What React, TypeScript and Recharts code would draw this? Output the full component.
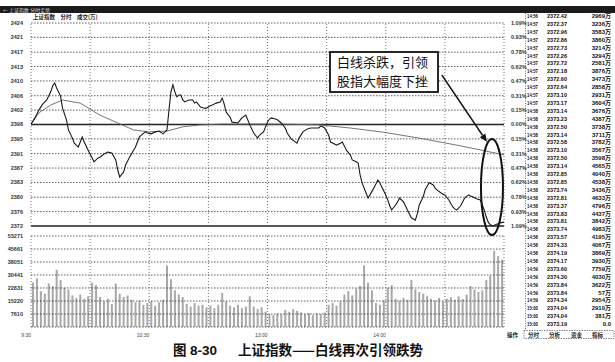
import {
  ComposedChart,
  BarChart,
  Bar,
  Line,
  XAxis,
  YAxis,
  ReferenceLine,
  ReferenceDot,
} from 'recharts'

// [minutes since 9:30, index level]
const priceTrack: [number, number][] = [
  [0, 2398.4], [2, 2400.0], [4, 2402.0], [6, 2403.6], [8, 2404.6], [10, 2406.7], [11, 2408.2], [12, 2409.0],
  [13, 2407.7], [15, 2405.6], [16, 2402.5], [18, 2399.5], [19, 2396.9], [21, 2394.8], [22, 2393.5], [24, 2392.5],
  [25, 2393.8], [26, 2395.1], [27, 2393.8], [29, 2391.7], [31, 2389.7], [32, 2388.7], [34, 2389.7], [35, 2389.9],
  [37, 2390.7], [39, 2391.2], [41, 2391.0], [43, 2389.2], [44, 2386.6], [45, 2384.8], [47, 2386.1], [48, 2387.9],
  [50, 2389.9], [53, 2392.5], [55, 2395.1], [58, 2396.4], [59, 2396.1], [61, 2395.9], [63, 2396.4], [65, 2396.6],
  [67, 2395.9], [68, 2396.4], [69, 2396.9], [70, 2402.0], [71, 2406.7], [72, 2408.5], [73, 2406.7], [74, 2405.4],
  [75, 2405.9], [76, 2405.9], [77, 2404.6], [78, 2404.1], [80, 2404.6], [82, 2404.6], [83, 2403.8], [84, 2404.1],
  [86, 2402.8], [88, 2402.5], [89, 2402.5], [91, 2403.1], [92, 2403.3], [94, 2403.8], [96, 2404.1], [97, 2405.1],
  [98, 2403.6], [99, 2401.5], [101, 2400.2], [102, 2398.9], [105, 2398.7], [107, 2400.0], [109, 2400.7], [110, 2399.5],
  [111, 2398.2], [113, 2396.1], [115, 2394.8], [116, 2395.6], [118, 2396.4], [119, 2397.7], [120, 2398.9], [121, 2399.7],
  [122, 2400.0], [124, 2399.7], [125, 2399.5], [127, 2398.7], [129, 2397.4], [130, 2396.1], [132, 2394.6], [135, 2393.5],
  [136, 2394.8], [138, 2396.4], [140, 2397.1], [142, 2397.4], [144, 2397.4], [146, 2397.4], [147, 2397.9], [148, 2397.7],
  [149, 2397.4], [151, 2395.6], [152, 2393.8], [154, 2393.3], [155, 2393.0], [157, 2393.5], [158, 2393.8], [159, 2392.8],
  [160, 2391.7], [162, 2390.5], [163, 2389.2], [165, 2388.7], [166, 2388.4], [167, 2385.3], [168, 2383.3], [170, 2380.7],
  [171, 2379.4], [172, 2380.2], [174, 2382.0], [176, 2384.0], [177, 2383.3], [178, 2382.2], [180, 2380.2], [181, 2378.9],
  [182, 2377.4], [183, 2376.3], [185, 2377.6], [186, 2378.4], [187, 2379.4], [189, 2378.4], [190, 2377.4], [191, 2376.3],
  [192, 2375.3], [193, 2374.3], [195, 2373.7], [196, 2375.3], [197, 2377.6], [199, 2379.7], [200, 2381.5], [202, 2383.3],
  [204, 2382.8], [205, 2382.0], [206, 2381.5], [208, 2380.7], [210, 2380.2], [212, 2378.9], [214, 2377.1], [215, 2376.6],
  [216, 2376.3], [218, 2377.4], [219, 2378.4], [220, 2379.4], [222, 2380.2], [223, 2379.9], [224, 2379.7], [226, 2379.2],
  [228, 2378.9], [229, 2377.6], [230, 2376.3], [231, 2374.5], [232, 2373.2], [233, 2372.5], [234, 2372.3], [235, 2372.4],
  [236, 2372.6], [238, 2373.0], [240, 2373.2],
]

// average price (the thin line)
const avgTrack: [number, number][] = [
  [0, 2398.4], [4, 2401.3], [10, 2403.3], [16, 2404.6], [25, 2403.8], [35, 2400.7], [44, 2398.7],
  [52, 2396.9], [60, 2396.4], [69, 2396.6], [77, 2397.7], [86, 2398.2], [97, 2398.4], [128, 2398.4],
  [146, 2398.2], [162, 2397.4], [179, 2396.3], [197, 2394.8], [218, 2392.8], [240, 2390.5],
]

// turnover per 2-minute slot, 万
const volumes = [
  26000, 28500, 21000, 19500, 25500, 24000, 33500, 27500, 23000, 22000,
  18500, 17000, 19000, 16500, 18000, 26000, 24500, 17500, 15000, 16500,
  13500, 25500, 19500, 17500, 18500, 16000, 14500, 15500, 13000, 14000,
  15000, 12500, 14500, 16000, 36000, 28000, 21500, 19000, 17500, 13500,
  12000, 14000, 12500, 13000, 11500, 12500, 11000, 13000, 20000, 15000,
  12500, 11500, 13000, 11000, 12000, 18000, 12000, 10500, 11500, 9000,
  7500, 7000, 8000, 7500, 10000, 9000, 10500, 9500, 8500, 7500,
  8000, 7000, 8000, 7500, 8500, 13000, 14000, 12500, 15000, 19000,
  21000, 18500, 22500, 24000, 36000, 26000, 21500, 14000, 13000, 15500,
  23000, 24500, 16500, 15500, 17000, 16000, 27500, 22000, 20500, 19500,
  18000, 16500, 15500, 17000, 15000, 16500, 17500, 16000, 18000, 16500,
  19000, 24000, 22000, 20500, 21500, 27500, 30000, 44500, 41500, 39500,
]

const priceTicks = [
  2372.2, 2375.9, 2379.6, 2383.4, 2387.1, 2390.8, 2394.6, 2398.3,
  2402.0, 2405.7, 2409.5, 2413.2, 2416.9, 2420.7, 2424.4,
]
const priceLabels = [
  '2372', '2376', '2380', '2383', '2387', '2391', '2395', '2398',
  '2402', '2406', '2410', '2413', '2417', '2421', '2424',
]
const pctLabels = [
  '1.09%', '0.93%', '0.78%', '0.62%', '0.47%', '0.31%', '0.15%', '0.00%',
  '0.15%', '0.31%', '0.47%', '0.62%', '0.78%', '0.93%', '1.09%',
]
const prevClose = 2398.3
const volTicks = [0, 7610, 15220, 22831, 30441, 38051, 45661, 53271]
const timeTicks = [0, 60, 120, 180]
const timeLabels = ['9:30', '10:30', '13:00', '14:00']
const gridMinutes = [0, 30, 60, 90, 120, 150, 180, 210, 240]

// last trades panel
const tradeTimes = [
  '14:56', '14:57', '14:57', '14:57', '14:57', '14:57', '14:57', '14:57', '14:57', '14:57',
  '14:57', '14:57', '14:58', '14:58', '14:58', '14:58', '14:58', '14:58', '14:58', '14:58',
  '14:58', '14:58', '14:58', '14:58', '14:58', '14:58', '14:58', '14:58', '14:58', '14:58',
  '14:58', '14:58', '14:59', '14:59', '14:59', '14:59', '14:59', '15:00', '15:00', '15:00',
]
const tradePrices = [
  '2372.42', '2372.37', '2372.96', '2372.86', '2372.73', '2372.26', '2372.72', '2372.18', '2372.60', '2372.64',
  '2373.10', '2373.17', '2373.14', '2373.23', '2372.50', '2373.14', '2372.58', '2373.10', '2372.50', '2373.14',
  '2372.85', '2372.85', '2373.74', '2372.81', '2373.37', '2373.83', '2373.81', '2373.74', '2373.57', '2374.33',
  '2374.19', '2374.17', '2373.60', '2374.30', '2373.84', '2373.84', '2374.34', '2374.04', '2374.04', '2373.19',
]
const tradeVols = [
  '2969万', '3236万', '3583万', '3860万', '3214万', '3294万', '2581万', '3876万', '3473万', '2858万',
  '2931万', '3604万', '3676万', '4387万', '3738万', '3711万', '3782万', '3567万', '3598万', '4565万',
  '4040万', '4538万', '3436万', '4633万', '4796万', '4437万', '3842万', '4983万', '4195万', '4067万',
  '3869万', '3930万', '7759万', '4030万', '3622万', '57万', '2954万', '2910万', '381万', '0.0',
]

const priceData = priceTrack.map(([m, v]) => ({ m, v }))
const avgData = avgTrack.map(([m, v]) => ({ m, v }))
const volData = volumes.map((vol, i) => ({ t: i * 2 + 1, vol }))

const SANS = "'Liberation Sans', 'Noto Sans CJK SC', sans-serif"
const CJK = "'Noto Sans CJK SC', sans-serif"
const tickStyle = { fontSize: 5.5, fill: '#333', fontFamily: SANS, fontWeight: 'bold' as const }

function TimeTick({ x, y, payload }: any) {
  const label = timeLabels[timeTicks.indexOf(payload.value)]
  return (
    <text x={x} y={y + 2} textAnchor="end" fontSize={5} fill="#444" fontFamily={SANS}>
      {label}
    </text>
  )
}

// arrow from the callout down to the circled tail
function ArrowShape(p: any) {
  const { x1, y1, x2, y2 } = p
  const a = Math.atan2(y2 - y1, x2 - x1)
  const len = 8
  const w = 3.2
  const bx = x2 - len * Math.cos(a)
  const by = y2 - len * Math.sin(a)
  const pts = [
    `${x2},${y2}`,
    `${bx - w * Math.sin(a)},${by + w * Math.cos(a)}`,
    `${bx + w * Math.sin(a)},${by - w * Math.cos(a)}`,
  ].join(' ')
  return (
    <g>
      <line x1={x1} y1={y1} x2={bx} y2={by} stroke="#111" strokeWidth={1.6} />
      <polygon points={pts} fill="#111" />
    </g>
  )
}

function Ring(p: any) {
  return <ellipse cx={p.cx} cy={p.cy} rx={11} ry={48} fill="none" stroke="#111" strokeWidth={2} />
}

function Overlay() {
  return (
    <svg width={615} height={362} style={{ position: 'absolute', left: 0, top: 0, pointerEvents: 'none' }}>
      {/* window bar */}
      <rect x={0} y={6} width={615} height={7} fill="#1b1b1b" />
      <text x={3} y={11.5} fontSize={5} fill="#ddd" fontFamily={CJK}>
        ← 上证指数 分时走势
      </text>
      <text x={33} y={19} fontSize={5.5} fill="#222" fontWeight="bold" fontFamily={CJK}>
        上证指数　分时　成交(万)
      </text>

      {/* trades list */}
      <line x1={525.5} y1={13} x2={525.5} y2={330} stroke="#444" strokeWidth={0.8} strokeDasharray="1 1.5" />
      {tradeTimes.map((t, i) => {
        const y = 18 + i * 7.9
        return (
          <g key={i} fontFamily={SANS} fontWeight="bold" fontSize={6} fill="#111">
            <text x={527} y={y} textLength={11} lengthAdjust="spacingAndGlyphs">{t}</text>
            <text x={547} y={y} textLength={20} lengthAdjust="spacingAndGlyphs">{tradePrices[i]}</text>
            <text x={611} y={y} textAnchor="end">{tradeVols[i]}</text>
          </g>
        )
      })}

      {/* tab strip */}
      <g fontFamily={CJK} fontSize={5.5} fontWeight="bold" fill="#222">
        <text x={507} y={337}>操作</text>
        <rect x={524} y={330.5} width={90} height={8} fill="none" stroke="#555" strokeWidth={0.7} strokeDasharray="1.5 1" />
        <text x={528} y={337}>分时</text>
        <text x={549} y={337}>分析</text>
        <text x={571} y={337}>资金</text>
        <text x={592} y={337}>指标</text>
      </g>

      {/* callout */}
      <rect x={330} y={52} width={108} height={40} fill="#fff" stroke="#111" strokeWidth={1.8} />
      <g fontFamily={CJK} fontSize={13} fill="#111">
        <text x={337} y={67}>白线杀跌，引领</text>
        <text x={337} y={86}>股指大幅度下挫</text>
      </g>

      {/* caption */}
      <g fontFamily={CJK} fontWeight="bold" fill="#111">
        <text x={173} y={355} fontSize={13.5}>图</text>
        <text x={190} y={355} fontSize={13.5} fontFamily="'Liberation Sans', sans-serif">8-30</text>
        <text x={238} y={355} fontSize={13.5}>上证指数——白线再次引领跌势</text>
      </g>
    </svg>
  )
}

export default function App() {
  const dotted = { stroke: '#333', strokeWidth: 0.8, strokeDasharray: '1.5 1.5' }
  const vDotted = { stroke: '#555', strokeWidth: 0.8, strokeDasharray: '1 2' }
  return (
    <div style={{ position: 'fixed', left: 0, top: 0, width: 615, height: 362, background: '#fff', overflow: 'hidden' }}>
      <div style={{ position: 'absolute', left: 0, top: 0 }}>
        <ComposedChart width={615} height={236} margin={{ top: 23, right: 87, bottom: 10, left: 0 }}>
          <XAxis type="number" dataKey="m" domain={[0, 240]} hide allowDataOverflow />
          <YAxis
            yAxisId="p"
            domain={[2372.2, 2424.4]}
            ticks={priceTicks}
            interval={0}
            width={31}
            axisLine={false}
            tickLine={false}
            tickMargin={2}
            tick={tickStyle}
            tickFormatter={(_v: number, i: number) => priceLabels[i]}
            allowDataOverflow
          />
          <YAxis
            yAxisId="pct"
            orientation="right"
            domain={[2372.2, 2424.4]}
            ticks={priceTicks}
            interval={0}
            width={24}
            axisLine={false}
            tickLine={false}
            tickMargin={1}
            tick={tickStyle}
            tickFormatter={(_v: number, i: number) => pctLabels[i]}
            allowDataOverflow
          />
          {priceTicks.map(v =>
            v === prevClose || v === priceTicks[0] ? (
              <ReferenceLine key={v} yAxisId="p" y={v} stroke="#222" strokeWidth={1.6} />
            ) : (
              <ReferenceLine key={v} yAxisId="p" y={v} {...dotted} />
            ),
          )}
          {gridMinutes.map(m => (
            <ReferenceLine key={m} yAxisId="p" x={m} {...vDotted} />
          ))}
          <Line yAxisId="p" data={avgData} dataKey="v" type="linear" stroke="#666" strokeWidth={0.9} dot={false} isAnimationActive={false} />
          <Line yAxisId="p" data={priceData} dataKey="v" type="linear" stroke="#1a1a1a" strokeWidth={1.1} dot={false} isAnimationActive={false} />
          <ReferenceLine
            yAxisId="p"
            segment={[{ x: 208.5, y: 2411.0 }, { x: 231.4, y: 2393.8 }]}
            shape={ArrowShape}
          />
          <ReferenceDot yAxisId="p" x={233.9} y={2382.2} r={1} shape={Ring} />
        </ComposedChart>
      </div>
      <div style={{ position: 'absolute', left: 0, top: 226 }}>
        <BarChart width={615} height={118} data={volData} margin={{ top: 10, right: 87, bottom: 4, left: 0 }}>
          <XAxis
            type="number"
            dataKey="t"
            domain={[0, 240]}
            ticks={timeTicks}
            interval={0}
            axisLine={false}
            tickLine={false}
            height={13}
            tick={<TimeTick />}
            allowDataOverflow
          />
          <YAxis
            yAxisId="v"
            domain={[0, 53271]}
            ticks={volTicks}
            interval={0}
            width={31}
            axisLine={false}
            tickLine={false}
            tickMargin={2}
            tick={tickStyle}
            tickFormatter={(v: number) => (v === 0 ? '' : String(v))}
          />
          <YAxis
            yAxisId="vr"
            orientation="right"
            domain={[0, 53271]}
            ticks={volTicks}
            interval={0}
            width={24}
            axisLine={false}
            tickLine={false}
            tickMargin={1}
            tick={tickStyle}
            tickFormatter={(v: number) => (v === 0 ? '' : String(v))}
          />
          {volTicks.map(v => (
            <ReferenceLine key={v} yAxisId="v" y={v} {...dotted} />
          ))}
          {gridMinutes.map(m => (
            <ReferenceLine key={m} yAxisId="v" x={m} {...vDotted} />
          ))}
          <Bar yAxisId="v" dataKey="vol" barSize={2} fill="#a8a8a8" isAnimationActive={false} />
        </BarChart>
      </div>
      <Overlay />
    </div>
  )
}
